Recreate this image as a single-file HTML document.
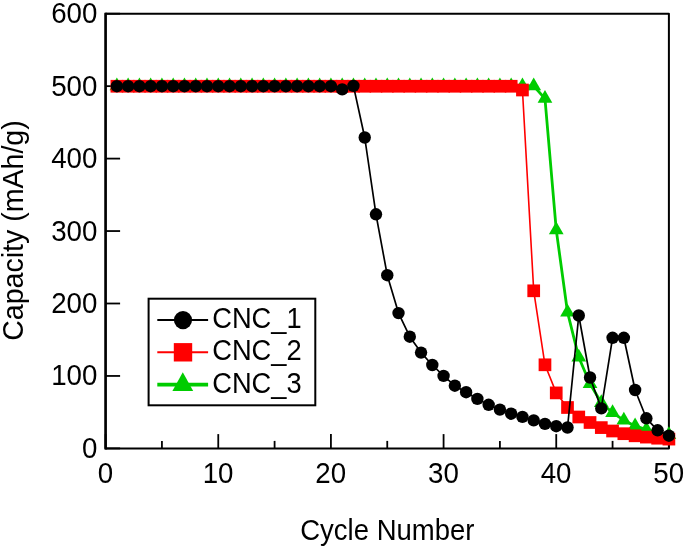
<!DOCTYPE html>
<html lang="en"><head><meta charset="utf-8"><title>Capacity vs Cycle Number</title>
<style>html,body{margin:0;padding:0;background:#fff}svg{display:block;will-change:transform}text{font-family:"Liberation Sans",Arial,Helvetica,sans-serif;font-size:28px;fill:#000}</style></head><body>
<svg width="685" height="549" viewBox="0 0 685 549">
<rect x="0" y="0" width="685" height="549" fill="#fff"/>
<g id="axes" stroke="#000" fill="none">
<rect x="105.6" y="13.7" width="563.3" height="434.7" stroke-width="2" stroke-linejoin="round"/>
<line x1="105.6" y1="12.7" x2="105.6" y2="449.4" stroke-width="2.4"/>
<line x1="105.6" y1="448.4" x2="120.1" y2="448.4" stroke-width="1.8"/>
<line x1="105.6" y1="375.95" x2="120.1" y2="375.95" stroke-width="1.8"/>
<line x1="105.6" y1="303.5" x2="120.1" y2="303.5" stroke-width="1.8"/>
<line x1="105.6" y1="231.05" x2="120.1" y2="231.05" stroke-width="1.8"/>
<line x1="105.6" y1="158.6" x2="120.1" y2="158.6" stroke-width="1.8"/>
<line x1="105.6" y1="86.15" x2="120.1" y2="86.15" stroke-width="1.8"/>
<line x1="105.6" y1="13.7" x2="120.1" y2="13.7" stroke-width="1.8"/>
<line x1="105.6" y1="434.1" x2="105.6" y2="448.4" stroke-width="1.8"/>
<line x1="161.93" y1="440.9" x2="161.93" y2="448.4" stroke-width="1.8"/>
<line x1="218.26" y1="434.1" x2="218.26" y2="448.4" stroke-width="1.8"/>
<line x1="274.59" y1="440.9" x2="274.59" y2="448.4" stroke-width="1.8"/>
<line x1="330.92" y1="434.1" x2="330.92" y2="448.4" stroke-width="1.8"/>
<line x1="387.25" y1="440.9" x2="387.25" y2="448.4" stroke-width="1.8"/>
<line x1="443.58" y1="434.1" x2="443.58" y2="448.4" stroke-width="1.8"/>
<line x1="499.91" y1="440.9" x2="499.91" y2="448.4" stroke-width="1.8"/>
<line x1="556.24" y1="434.1" x2="556.24" y2="448.4" stroke-width="1.8"/>
<line x1="612.57" y1="440.9" x2="612.57" y2="448.4" stroke-width="1.8"/>
<line x1="668.9" y1="434.1" x2="668.9" y2="448.4" stroke-width="1.8"/>
</g>
<g id="cnc3">
<polyline fill="none" stroke="#00cc00" stroke-width="2.8" stroke-linejoin="round" points="116.87,86 128.13,86 139.4,86 150.66,86 161.93,86 173.2,86 184.46,86 195.73,86 206.99,86 218.26,86 229.53,86 240.79,86 252.06,86 263.32,86 274.59,86 285.86,86 297.12,86 308.39,86 319.65,86 330.92,86 342.19,86 353.45,86 364.72,86 375.98,86 387.25,86 398.52,86 409.78,86 421.05,86 432.31,86 443.58,86 454.85,86 466.11,86 477.38,86 488.64,86 499.91,86 511.18,86 522.44,86 533.71,86 544.97,98.6 556.24,229.9 567.51,312.2 578.77,357.3 590.04,383.8 601.3,402.7 612.57,412.8 623.84,420.2 635.1,425.9 646.37,429.5 657.63,432.4 668.9,434.7"/>
<polygon fill="#00cc00" points="116.87,77.5 109.5,90.25 124.23,90.25"/>
<polygon fill="#00cc00" points="128.13,77.5 120.77,90.25 135.49,90.25"/>
<polygon fill="#00cc00" points="139.4,77.5 132.04,90.25 146.76,90.25"/>
<polygon fill="#00cc00" points="150.66,77.5 143.3,90.25 158.02,90.25"/>
<polygon fill="#00cc00" points="161.93,77.5 154.57,90.25 169.29,90.25"/>
<polygon fill="#00cc00" points="173.2,77.5 165.83,90.25 180.56,90.25"/>
<polygon fill="#00cc00" points="184.46,77.5 177.1,90.25 191.82,90.25"/>
<polygon fill="#00cc00" points="195.73,77.5 188.37,90.25 203.09,90.25"/>
<polygon fill="#00cc00" points="206.99,77.5 199.63,90.25 214.35,90.25"/>
<polygon fill="#00cc00" points="218.26,77.5 210.9,90.25 225.62,90.25"/>
<polygon fill="#00cc00" points="229.53,77.5 222.16,90.25 236.89,90.25"/>
<polygon fill="#00cc00" points="240.79,77.5 233.43,90.25 248.15,90.25"/>
<polygon fill="#00cc00" points="252.06,77.5 244.7,90.25 259.42,90.25"/>
<polygon fill="#00cc00" points="263.32,77.5 255.96,90.25 270.68,90.25"/>
<polygon fill="#00cc00" points="274.59,77.5 267.23,90.25 281.95,90.25"/>
<polygon fill="#00cc00" points="285.86,77.5 278.5,90.25 293.22,90.25"/>
<polygon fill="#00cc00" points="297.12,77.5 289.76,90.25 304.48,90.25"/>
<polygon fill="#00cc00" points="308.39,77.5 301.03,90.25 315.75,90.25"/>
<polygon fill="#00cc00" points="319.65,77.5 312.29,90.25 327.01,90.25"/>
<polygon fill="#00cc00" points="330.92,77.5 323.56,90.25 338.28,90.25"/>
<polygon fill="#00cc00" points="342.19,77.5 334.82,90.25 349.55,90.25"/>
<polygon fill="#00cc00" points="353.45,77.5 346.09,90.25 360.81,90.25"/>
<polygon fill="#00cc00" points="364.72,77.5 357.36,90.25 372.08,90.25"/>
<polygon fill="#00cc00" points="375.98,77.5 368.62,90.25 383.34,90.25"/>
<polygon fill="#00cc00" points="387.25,77.5 379.89,90.25 394.61,90.25"/>
<polygon fill="#00cc00" points="398.52,77.5 391.15,90.25 405.88,90.25"/>
<polygon fill="#00cc00" points="409.78,77.5 402.42,90.25 417.14,90.25"/>
<polygon fill="#00cc00" points="421.05,77.5 413.69,90.25 428.41,90.25"/>
<polygon fill="#00cc00" points="432.31,77.5 424.95,90.25 439.67,90.25"/>
<polygon fill="#00cc00" points="443.58,77.5 436.22,90.25 450.94,90.25"/>
<polygon fill="#00cc00" points="454.85,77.5 447.49,90.25 462.21,90.25"/>
<polygon fill="#00cc00" points="466.11,77.5 458.75,90.25 473.47,90.25"/>
<polygon fill="#00cc00" points="477.38,77.5 470.02,90.25 484.74,90.25"/>
<polygon fill="#00cc00" points="488.64,77.5 481.28,90.25 496,90.25"/>
<polygon fill="#00cc00" points="499.91,77.5 492.55,90.25 507.27,90.25"/>
<polygon fill="#00cc00" points="511.18,77.5 503.81,90.25 518.54,90.25"/>
<polygon fill="#00cc00" points="522.44,77.5 515.08,90.25 529.8,90.25"/>
<polygon fill="#00cc00" points="533.71,77.5 526.35,90.25 541.07,90.25"/>
<polygon fill="#00cc00" points="544.97,90.1 537.61,102.85 552.33,102.85"/>
<polygon fill="#00cc00" points="556.24,221.4 548.88,234.15 563.6,234.15"/>
<polygon fill="#00cc00" points="567.51,303.7 560.14,316.45 574.87,316.45"/>
<polygon fill="#00cc00" points="578.77,348.8 571.41,361.55 586.13,361.55"/>
<polygon fill="#00cc00" points="590.04,375.3 582.68,388.05 597.4,388.05"/>
<polygon fill="#00cc00" points="601.3,394.2 593.94,406.95 608.66,406.95"/>
<polygon fill="#00cc00" points="612.57,404.3 605.21,417.05 619.93,417.05"/>
<polygon fill="#00cc00" points="623.84,411.7 616.48,424.45 631.2,424.45"/>
<polygon fill="#00cc00" points="635.1,417.4 627.74,430.15 642.46,430.15"/>
<polygon fill="#00cc00" points="646.37,421 639.01,433.75 653.73,433.75"/>
<polygon fill="#00cc00" points="657.63,423.9 650.27,436.65 665,436.65"/>
<polygon fill="#00cc00" points="668.9,426.2 661.54,438.95 676.26,438.95"/>
</g>
<g id="cnc2">
<polyline fill="none" stroke="#ff0000" stroke-width="1.6" stroke-linejoin="round" points="116.87,86.25 128.13,86.25 139.4,86.25 150.66,86.25 161.93,86.25 173.2,86.25 184.46,86.25 195.73,86.25 206.99,86.25 218.26,86.25 229.53,86.25 240.79,86.25 252.06,86.25 263.32,86.25 274.59,86.25 285.86,86.25 297.12,86.25 308.39,86.25 319.65,86.25 330.92,86.25 342.19,86.25 353.45,86.25 364.72,86.25 375.98,86.25 387.25,86.25 398.52,86.25 409.78,86.25 421.05,86.25 432.31,86.25 443.58,86.25 454.85,86.25 466.11,86.25 477.38,86.25 488.64,86.25 499.91,86.25 511.18,86.25 522.44,90 533.71,290.8 544.97,364.8 556.24,392.9 567.51,407.5 578.77,417 590.04,422.5 601.3,427.6 612.57,431 623.84,433.7 635.1,435.8 646.37,437.1 657.63,438.2 668.9,439.1"/>
<rect fill="#ff0000" x="110.52" y="79.9" width="12.7" height="12.7"/>
<rect fill="#ff0000" x="121.78" y="79.9" width="12.7" height="12.7"/>
<rect fill="#ff0000" x="133.05" y="79.9" width="12.7" height="12.7"/>
<rect fill="#ff0000" x="144.31" y="79.9" width="12.7" height="12.7"/>
<rect fill="#ff0000" x="155.58" y="79.9" width="12.7" height="12.7"/>
<rect fill="#ff0000" x="166.85" y="79.9" width="12.7" height="12.7"/>
<rect fill="#ff0000" x="178.11" y="79.9" width="12.7" height="12.7"/>
<rect fill="#ff0000" x="189.38" y="79.9" width="12.7" height="12.7"/>
<rect fill="#ff0000" x="200.64" y="79.9" width="12.7" height="12.7"/>
<rect fill="#ff0000" x="211.91" y="79.9" width="12.7" height="12.7"/>
<rect fill="#ff0000" x="223.18" y="79.9" width="12.7" height="12.7"/>
<rect fill="#ff0000" x="234.44" y="79.9" width="12.7" height="12.7"/>
<rect fill="#ff0000" x="245.71" y="79.9" width="12.7" height="12.7"/>
<rect fill="#ff0000" x="256.97" y="79.9" width="12.7" height="12.7"/>
<rect fill="#ff0000" x="268.24" y="79.9" width="12.7" height="12.7"/>
<rect fill="#ff0000" x="279.51" y="79.9" width="12.7" height="12.7"/>
<rect fill="#ff0000" x="290.77" y="79.9" width="12.7" height="12.7"/>
<rect fill="#ff0000" x="302.04" y="79.9" width="12.7" height="12.7"/>
<rect fill="#ff0000" x="313.3" y="79.9" width="12.7" height="12.7"/>
<rect fill="#ff0000" x="324.57" y="79.9" width="12.7" height="12.7"/>
<rect fill="#ff0000" x="335.84" y="79.9" width="12.7" height="12.7"/>
<rect fill="#ff0000" x="347.1" y="79.9" width="12.7" height="12.7"/>
<rect fill="#ff0000" x="358.37" y="79.9" width="12.7" height="12.7"/>
<rect fill="#ff0000" x="369.63" y="79.9" width="12.7" height="12.7"/>
<rect fill="#ff0000" x="380.9" y="79.9" width="12.7" height="12.7"/>
<rect fill="#ff0000" x="392.17" y="79.9" width="12.7" height="12.7"/>
<rect fill="#ff0000" x="403.43" y="79.9" width="12.7" height="12.7"/>
<rect fill="#ff0000" x="414.7" y="79.9" width="12.7" height="12.7"/>
<rect fill="#ff0000" x="425.96" y="79.9" width="12.7" height="12.7"/>
<rect fill="#ff0000" x="437.23" y="79.9" width="12.7" height="12.7"/>
<rect fill="#ff0000" x="448.5" y="79.9" width="12.7" height="12.7"/>
<rect fill="#ff0000" x="459.76" y="79.9" width="12.7" height="12.7"/>
<rect fill="#ff0000" x="471.03" y="79.9" width="12.7" height="12.7"/>
<rect fill="#ff0000" x="482.29" y="79.9" width="12.7" height="12.7"/>
<rect fill="#ff0000" x="493.56" y="79.9" width="12.7" height="12.7"/>
<rect fill="#ff0000" x="504.83" y="79.9" width="12.7" height="12.7"/>
<rect fill="#ff0000" x="516.09" y="83.65" width="12.7" height="12.7"/>
<rect fill="#ff0000" x="527.36" y="284.45" width="12.7" height="12.7"/>
<rect fill="#ff0000" x="538.62" y="358.45" width="12.7" height="12.7"/>
<rect fill="#ff0000" x="549.89" y="386.55" width="12.7" height="12.7"/>
<rect fill="#ff0000" x="561.16" y="401.15" width="12.7" height="12.7"/>
<rect fill="#ff0000" x="572.42" y="410.65" width="12.7" height="12.7"/>
<rect fill="#ff0000" x="583.69" y="416.15" width="12.7" height="12.7"/>
<rect fill="#ff0000" x="594.95" y="421.25" width="12.7" height="12.7"/>
<rect fill="#ff0000" x="606.22" y="424.65" width="12.7" height="12.7"/>
<rect fill="#ff0000" x="617.49" y="427.35" width="12.7" height="12.7"/>
<rect fill="#ff0000" x="628.75" y="429.45" width="12.7" height="12.7"/>
<rect fill="#ff0000" x="640.02" y="430.75" width="12.7" height="12.7"/>
<rect fill="#ff0000" x="651.28" y="431.85" width="12.7" height="12.7"/>
<rect fill="#ff0000" x="662.55" y="432.75" width="12.7" height="12.7"/>
</g>
<g id="cnc1">
<polyline fill="none" stroke="#000" stroke-width="1.7" stroke-linejoin="round" points="116.87,86.2 128.13,86.2 139.4,86.2 150.66,86.2 161.93,86.2 173.2,86.2 184.46,86.2 195.73,86.2 206.99,86.2 218.26,86.2 229.53,86.2 240.79,86.2 252.06,86.2 263.32,86.2 274.59,86.2 285.86,86.2 297.12,86.2 308.39,86.2 319.65,86.2 330.92,86.2 342.19,89.4 353.45,85.9 364.72,137.5 375.98,214.3 387.25,275.2 398.52,313.1 409.78,336.7 421.05,352.6 432.31,365 443.58,375.9 454.85,385.7 466.11,392.2 477.38,398.9 488.64,404.8 499.91,409.6 511.18,413.7 522.44,416.9 533.71,420.4 544.97,423.9 556.24,426.2 567.51,427.5 578.77,315.5 590.04,377.5 601.3,408.4 612.57,337.8 623.84,337.8 635.1,390 646.37,418.3 657.63,430.3 668.9,435.7"/>
<circle fill="#000" cx="116.87" cy="86.2" r="6.2"/>
<circle fill="#000" cx="128.13" cy="86.2" r="6.2"/>
<circle fill="#000" cx="139.4" cy="86.2" r="6.2"/>
<circle fill="#000" cx="150.66" cy="86.2" r="6.2"/>
<circle fill="#000" cx="161.93" cy="86.2" r="6.2"/>
<circle fill="#000" cx="173.2" cy="86.2" r="6.2"/>
<circle fill="#000" cx="184.46" cy="86.2" r="6.2"/>
<circle fill="#000" cx="195.73" cy="86.2" r="6.2"/>
<circle fill="#000" cx="206.99" cy="86.2" r="6.2"/>
<circle fill="#000" cx="218.26" cy="86.2" r="6.2"/>
<circle fill="#000" cx="229.53" cy="86.2" r="6.2"/>
<circle fill="#000" cx="240.79" cy="86.2" r="6.2"/>
<circle fill="#000" cx="252.06" cy="86.2" r="6.2"/>
<circle fill="#000" cx="263.32" cy="86.2" r="6.2"/>
<circle fill="#000" cx="274.59" cy="86.2" r="6.2"/>
<circle fill="#000" cx="285.86" cy="86.2" r="6.2"/>
<circle fill="#000" cx="297.12" cy="86.2" r="6.2"/>
<circle fill="#000" cx="308.39" cy="86.2" r="6.2"/>
<circle fill="#000" cx="319.65" cy="86.2" r="6.2"/>
<circle fill="#000" cx="330.92" cy="86.2" r="6.2"/>
<circle fill="#000" cx="342.19" cy="89.4" r="6.2"/>
<circle fill="#000" cx="353.45" cy="85.9" r="6.2"/>
<circle fill="#000" cx="364.72" cy="137.5" r="6.2"/>
<circle fill="#000" cx="375.98" cy="214.3" r="6.2"/>
<circle fill="#000" cx="387.25" cy="275.2" r="6.2"/>
<circle fill="#000" cx="398.52" cy="313.1" r="6.2"/>
<circle fill="#000" cx="409.78" cy="336.7" r="6.2"/>
<circle fill="#000" cx="421.05" cy="352.6" r="6.2"/>
<circle fill="#000" cx="432.31" cy="365" r="6.2"/>
<circle fill="#000" cx="443.58" cy="375.9" r="6.2"/>
<circle fill="#000" cx="454.85" cy="385.7" r="6.2"/>
<circle fill="#000" cx="466.11" cy="392.2" r="6.2"/>
<circle fill="#000" cx="477.38" cy="398.9" r="6.2"/>
<circle fill="#000" cx="488.64" cy="404.8" r="6.2"/>
<circle fill="#000" cx="499.91" cy="409.6" r="6.2"/>
<circle fill="#000" cx="511.18" cy="413.7" r="6.2"/>
<circle fill="#000" cx="522.44" cy="416.9" r="6.2"/>
<circle fill="#000" cx="533.71" cy="420.4" r="6.2"/>
<circle fill="#000" cx="544.97" cy="423.9" r="6.2"/>
<circle fill="#000" cx="556.24" cy="426.2" r="6.2"/>
<circle fill="#000" cx="567.51" cy="427.5" r="6.2"/>
<circle fill="#000" cx="578.77" cy="315.5" r="6.2"/>
<circle fill="#000" cx="590.04" cy="377.5" r="6.2"/>
<circle fill="#000" cx="601.3" cy="408.4" r="6.2"/>
<circle fill="#000" cx="612.57" cy="337.8" r="6.2"/>
<circle fill="#000" cx="623.84" cy="337.8" r="6.2"/>
<circle fill="#000" cx="635.1" cy="390" r="6.2"/>
<circle fill="#000" cx="646.37" cy="418.3" r="6.2"/>
<circle fill="#000" cx="657.63" cy="430.3" r="6.2"/>
<circle fill="#000" cx="668.9" cy="435.7" r="6.2"/>
</g>
<g id="ylabels">
<text transform="translate(97.4,457.9) scale(0.99,1.04)" text-anchor="end">0</text>
<text transform="translate(97.4,385.45) scale(0.99,1.04)" text-anchor="end">100</text>
<text transform="translate(97.4,313) scale(0.99,1.04)" text-anchor="end">200</text>
<text transform="translate(97.4,240.55) scale(0.99,1.04)" text-anchor="end">300</text>
<text transform="translate(97.4,168.1) scale(0.99,1.04)" text-anchor="end">400</text>
<text transform="translate(97.4,95.65) scale(0.99,1.04)" text-anchor="end">500</text>
<text transform="translate(97.4,23.2) scale(0.99,1.04)" text-anchor="end">600</text>
</g>
<g id="xlabels">
<text transform="translate(105.4,483.2) scale(0.99,1.04)" text-anchor="middle">0</text>
<text transform="translate(218.06,483.2) scale(0.99,1.04)" text-anchor="middle">10</text>
<text transform="translate(330.72,483.2) scale(0.99,1.04)" text-anchor="middle">20</text>
<text transform="translate(443.38,483.2) scale(0.99,1.04)" text-anchor="middle">30</text>
<text transform="translate(556.04,483.2) scale(0.99,1.04)" text-anchor="middle">40</text>
<text transform="translate(668.7,483.2) scale(0.99,1.04)" text-anchor="middle">50</text>
</g>
<text transform="translate(387.35,540.2) scale(0.983,1.025)" text-anchor="middle">Cycle Number</text>
<text transform="translate(22.9,230.55) rotate(-90) scale(1.02,1.025)" text-anchor="middle">Capacity (mAh/g)</text>
<g id="legend">
<rect x="148.6" y="298.7" width="166.7" height="106.6" fill="#fff" stroke="#000" stroke-width="2"/>
<line x1="157.3" y1="320.1" x2="208.1" y2="320.1" stroke="#000" stroke-width="2"/>
<circle cx="183" cy="320.1" r="9.1" fill="#000"/>
<line x1="157.3" y1="352.3" x2="208.1" y2="352.3" stroke="#ff0000" stroke-width="2"/>
<rect x="173.8" y="343.1" width="18.4" height="18.4" fill="#ff0000"/>
<line x1="157.3" y1="384.7" x2="208.1" y2="384.7" stroke="#00cc00" stroke-width="3.8"/>
<polygon fill="#00cc00" points="182.8,372.3 172.4,391 193.2,391"/>
<text transform="translate(212.2,328.1) scale(0.975,1.04)" text-anchor="start">CNC_1</text>
<text transform="translate(212.2,360.3) scale(0.975,1.04)" text-anchor="start">CNC_2</text>
<text transform="translate(212.2,392.7) scale(0.975,1.04)" text-anchor="start">CNC_3</text>
</g>
</svg></body></html>
